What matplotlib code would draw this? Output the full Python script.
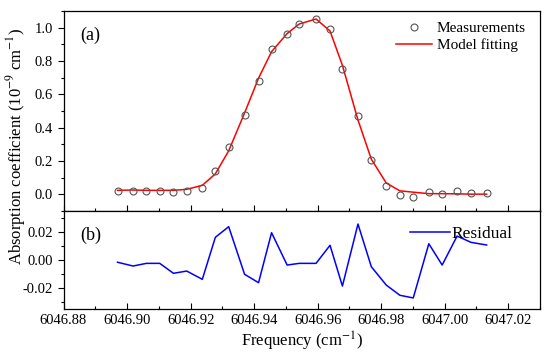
import numpy as np
import matplotlib
matplotlib.use("Agg")
import matplotlib.pyplot as plt
from matplotlib.ticker import MultipleLocator

plt.rcParams['font.family'] = ['Liberation Serif', 'DejaVu Serif']
plt.rcParams['mathtext.fontset'] = 'stix'

# frequency (cm-1)
freq = [6046.8970, 6046.9019, 6046.9061, 6046.9103, 6046.9146, 6046.9188,
        6046.9237, 6046.9278, 6046.9320, 6046.9370, 6046.9414, 6046.9455,
        6046.9504, 6046.9542, 6046.9595, 6046.9639, 6046.9678, 6046.9727,
        6046.9769, 6046.9816, 6046.9859, 6046.9901, 6046.9950, 6046.9992,
        6047.0039, 6047.0083, 6047.0132]
# measured absorption (1e-9 cm-1)
meas = [0.022, 0.022, 0.022, 0.022, 0.014, 0.022, 0.040, 0.139, 0.285,
        0.478, 0.681, 0.875, 0.961, 1.020, 1.050, 0.990, 0.755, 0.472,
        0.206, 0.050, -0.004, -0.014, 0.016, 0.000, 0.020, 0.010, 0.010]
# fitted model
model = [0.024, 0.026, 0.024, 0.024, 0.024, 0.030, 0.054, 0.123, 0.261,
         0.488, 0.697, 0.856, 0.965, 1.022, 1.052, 0.980, 0.774, 0.446,
         0.211, 0.068, 0.021, 0.013, 0.004, 0.004, 0.003, 0.001, 0.001]
# residual
resid = [-0.0016, -0.0043, -0.0024, -0.0024, -0.0095, -0.0079, -0.0138,
         0.0162, 0.0238, -0.0102, -0.0162, 0.0195, -0.0036, -0.0024,
         -0.0024, 0.0105, -0.0186, 0.0257, -0.0048, -0.0179, -0.0252,
         -0.0271, 0.0116, -0.0036, 0.0171, 0.0126, 0.0107]

fig = plt.figure(figsize=(5.5, 3.54), dpi=100)
ax1 = fig.add_axes([63.5/550, 1 - 211/354, (540 - 63.5)/550, 200/354])
ax2 = fig.add_axes([63.5/550, 1 - 309/354, (540 - 63.5)/550, 98/354], sharex=ax1)

ax1.plot(freq, model, color='red', lw=1.1, label='Model fitting', zorder=2)
ax1.plot(freq, meas, ls='none', marker='o', ms=5, mfc='none', mec='#555555',
         mew=0.8, label='Measurements', zorder=3)
h, l = ax1.get_legend_handles_labels()
ax1.legend(h[::-1], l[::-1], loc='upper right', frameon=False, fontsize=11,
           handlelength=2.4, borderaxespad=0.3, labelspacing=0.2,
           handletextpad=0.3, bbox_to_anchor=(0.993, 1.0))
ax1.set_ylim(-0.1, 1.1)
ax1.yaxis.set_major_locator(MultipleLocator(0.2))
ax1.yaxis.set_minor_locator(MultipleLocator(0.1))
ax1.text(0.035, 0.855, '(a)', transform=ax1.transAxes, fontsize=13)
ax1.tick_params(labelbottom=False)

ax2.plot(freq, resid, color='blue', lw=1.1, label='Residual')
ax2.legend(loc='upper right', frameon=False, fontsize=12.5, handlelength=2.3,
           handletextpad=0.1, borderaxespad=0.3, bbox_to_anchor=(0.968, 0.97))
ax2.set_ylim(-0.035, 0.035)
ax2.yaxis.set_major_locator(MultipleLocator(0.02))
ax2.yaxis.set_minor_locator(MultipleLocator(0.01))
ax2.text(0.035, 0.7, '(b)', transform=ax2.transAxes, fontsize=13)

ax2.set_xlim(6046.88, 6047.03)
ax2.xaxis.set_major_locator(MultipleLocator(0.02))
ax2.xaxis.set_minor_locator(MultipleLocator(0.01))
ax2.xaxis.set_major_formatter(plt.FormatStrFormatter('%.2f'))
ax2.yaxis.set_major_formatter(plt.FormatStrFormatter('%.2f'))
ax1.yaxis.set_major_formatter(plt.FormatStrFormatter('%.1f'))

for ax in (ax1, ax2):
    ax.tick_params(axis='x', which='both', direction='in', top=False)
    ax.tick_params(axis='y', which='both', direction='out', right=False)
    ax.tick_params(which='major', length=4, width=0.8, labelsize=10.5)
    ax.tick_params(which='minor', length=2.5, width=0.8)
    for s in ax.spines.values():
        s.set_linewidth(0.9)

ax2.set_xlabel('Frequency (cm$^{-1}$)', fontsize=12, labelpad=2)
fig.text(0.03, (354 - 146)/354, 'Absorption coefficient (10$^{-9}$ cm$^{-1}$)',
         rotation=90, va='center', ha='center', fontsize=12)

fig.savefig('out.png', dpi=100)
